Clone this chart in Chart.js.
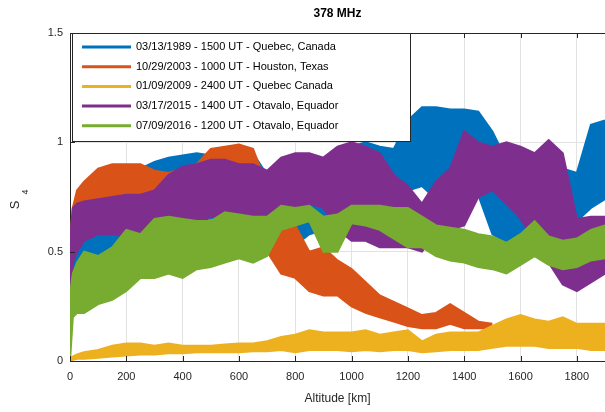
<!DOCTYPE html>
<html>
<head>
<meta charset="utf-8">
<script src="https://cdn.jsdelivr.net/npm/chart.js@4.4.1/dist/chart.umd.min.js"></script>
<style>
html,body{margin:0;padding:0;background:#ffffff;}
#wrap{width:605px;height:412px;position:relative;}
</style>
</head>
<body>
<div id="wrap"><canvas id="c" width="605" height="412"></canvas></div>
<script>
// ---------- data ----------
const chartTitle = '378 MHz';
const xAxisTitle = 'Altitude [km]';
const yAxisMain = 'S';
const yAxisSub = '4';

const altitudeKm = [0, 10, 25, 50, 100, 150, 200, 250, 300, 350, 400, 450, 500, 550, 600, 650, 700, 750, 800, 850, 900, 950, 1000, 1050, 1100, 1150, 1200, 1250, 1300, 1350, 1400, 1450, 1500, 1550, 1600, 1650, 1700, 1750, 1800, 1850, 1900];

const seriesLabels = [
  '03/13/1989 - 1500 UT - Quebec, Canada',
  '10/29/2003 - 1000 UT - Houston, Texas',
  '01/09/2009 - 2400 UT - Quebec Canada',
  '03/17/2015 - 1400 UT - Otavalo, Equador',
  '07/09/2016 - 1200 UT - Otavalo, Equador'
];

// upper / lower envelope of each noisy S4 trace
const quebec1989Hi = [0.45, 0.65, 0.75, 0.8, 0.82, 0.84, 0.85, 0.88, 0.91, 0.93, 0.94, 0.95, 0.94, 0.95, 0.96, 0.95, 0.85, 0.8, 0.78, 0.88, 0.92, 0.92, 0.98, 1.0, 0.98, 0.97, 1.1, 1.16, 1.16, 1.15, 1.15, 1.14, 1.05, 0.92, 0.72, 0.8, 0.85, 0.88, 0.86, 1.08, 1.1];
const quebec1989Lo = [0.25, 0.35, 0.4, 0.45, 0.48, 0.5, 0.52, 0.55, 0.58, 0.6, 0.62, 0.65, 0.65, 0.66, 0.68, 0.68, 0.55, 0.54, 0.53, 0.58, 0.6, 0.68, 0.72, 0.75, 0.72, 0.72, 0.78, 0.8, 0.74, 0.74, 0.74, 0.76, 0.58, 0.54, 0.58, 0.6, 0.62, 0.64, 0.64, 0.7, 0.74];

const houston2003Hi = [0.55, 0.7, 0.78, 0.82, 0.88, 0.9, 0.9, 0.9, 0.87, 0.86, 0.88, 0.9, 0.97, 0.98, 0.99, 0.97, 0.8, 0.6, 0.62, 0.5, 0.52, 0.46, 0.42, 0.36, 0.3, 0.27, 0.24, 0.21, 0.22, 0.26, 0.22, 0.18, 0.17];
const houston2003Lo = [0.35, 0.5, 0.55, 0.6, 0.64, 0.66, 0.6, 0.68, 0.7, 0.7, 0.72, 0.72, 0.68, 0.66, 0.62, 0.6, 0.5, 0.4, 0.38, 0.32, 0.3, 0.3, 0.25, 0.22, 0.2, 0.18, 0.16, 0.15, 0.15, 0.17, 0.15, 0.15, 0.15];

const quebec2009Hi = [0.01, 0.02, 0.03, 0.04, 0.05, 0.07, 0.08, 0.08, 0.07, 0.08, 0.07, 0.07, 0.07, 0.075, 0.08, 0.08, 0.09, 0.11, 0.12, 0.14, 0.13, 0.13, 0.13, 0.14, 0.12, 0.13, 0.14, 0.09, 0.12, 0.13, 0.13, 0.13, 0.16, 0.19, 0.21, 0.19, 0.18, 0.2, 0.17, 0.17, 0.17];
const quebec2009Lo = [0, 0.005, 0.01, 0.01, 0.015, 0.02, 0.025, 0.03, 0.03, 0.035, 0.035, 0.04, 0.04, 0.04, 0.04, 0.045, 0.045, 0.05, 0.04, 0.05, 0.05, 0.05, 0.045, 0.05, 0.045, 0.05, 0.05, 0.04, 0.045, 0.05, 0.05, 0.05, 0.06, 0.07, 0.07, 0.07, 0.06, 0.06, 0.06, 0.05, 0.05];

const otavalo2015Hi = [0.55, 0.7, 0.72, 0.73, 0.74, 0.75, 0.76, 0.76, 0.78, 0.85, 0.89, 0.9, 0.92, 0.92, 0.9, 0.9, 0.87, 0.93, 0.95, 0.95, 0.93, 0.98, 1.0, 0.98, 0.95, 0.85, 0.8, 0.72, 0.82, 0.88, 1.05, 1.0, 0.98, 1.0, 0.98, 0.95, 1.01, 0.95, 0.65, 0.66, 0.66];
const otavalo2015Lo = [0.3, 0.45, 0.5, 0.55, 0.58, 0.58, 0.57, 0.58, 0.6, 0.58, 0.6, 0.62, 0.66, 0.66, 0.65, 0.55, 0.57, 0.68, 0.7, 0.72, 0.7, 0.6, 0.55, 0.55, 0.52, 0.52, 0.52, 0.5, 0.58, 0.6, 0.62, 0.75, 0.78, 0.72, 0.65, 0.55, 0.45, 0.35, 0.32, 0.36, 0.4];

const otavalo2016Hi = [0.3, 0.4, 0.45, 0.5, 0.48, 0.52, 0.6, 0.58, 0.65, 0.66, 0.65, 0.64, 0.64, 0.68, 0.67, 0.66, 0.66, 0.71, 0.7, 0.71, 0.66, 0.67, 0.71, 0.71, 0.71, 0.7, 0.7, 0.66, 0.62, 0.61, 0.6, 0.58, 0.57, 0.54, 0.58, 0.64, 0.57, 0.55, 0.56, 0.6, 0.62];
const otavalo2016Lo = [0, 0.2, 0.22, 0.22, 0.26, 0.28, 0.32, 0.38, 0.38, 0.4, 0.38, 0.42, 0.43, 0.45, 0.47, 0.45, 0.48, 0.6, 0.62, 0.64, 0.5, 0.5, 0.63, 0.62, 0.6, 0.56, 0.52, 0.52, 0.48, 0.46, 0.45, 0.43, 0.42, 0.4, 0.44, 0.48, 0.44, 0.42, 0.43, 0.46, 0.47];

const xTickValues = [0, 200, 400, 600, 800, 1000, 1200, 1400, 1600, 1800];
const yTickValues = [0, 0.5, 1, 1.5];

// ---------- styling ----------
const seriesColors = ['#0072BD', '#D95319', '#EDB120', '#7E2F8E', '#77AC30'];
const axisColor = '#262626';
const FONT = '"Liberation Sans", Arial, Helvetica, sans-serif';

const highs = [quebec1989Hi, houston2003Hi, quebec2009Hi, otavalo2015Hi, otavalo2016Hi];
const lows  = [quebec1989Lo, houston2003Lo, quebec2009Lo, otavalo2015Lo, otavalo2016Lo];

function toPoints(arr) {
  return arr.map((v, i) => ({ x: altitudeKm[i], y: v }));
}

const datasets = [];
for (let s = 0; s < seriesLabels.length; s++) {
  datasets.push({
    label: seriesLabels[s],
    data: toPoints(highs[s]),
    borderColor: seriesColors[s],
    backgroundColor: seriesColors[s],
    borderWidth: 2,
    pointRadius: 0,
    tension: 0,
    fill: '+1',
    order: seriesLabels.length - 1 - s
  });
  datasets.push({
    label: seriesLabels[s] + ' (lower)',
    data: toPoints(lows[s]),
    borderColor: seriesColors[s],
    backgroundColor: seriesColors[s],
    borderWidth: 2,
    pointRadius: 0,
    tension: 0,
    fill: false,
    order: seriesLabels.length - 1 - s
  });
}

const decorPlugin = {
  id: 'decor',
  afterDatasetsDraw(chart) {
    const ctx = chart.ctx;
    const a = chart.chartArea;
    const xs = chart.scales.x, ys = chart.scales.y;
    ctx.save();
    // top box line
    ctx.strokeStyle = axisColor;
    ctx.lineWidth = 1;
    ctx.beginPath();
    ctx.moveTo(a.left, a.top + 0.5);
    ctx.lineTo(a.right, a.top + 0.5);
    ctx.stroke();
    // inward ticks
    xTickValues.forEach(v => {
      const px = Math.round(xs.getPixelForValue(v)) + 0.5;
      ctx.beginPath();
      ctx.moveTo(px, a.bottom); ctx.lineTo(px, a.bottom - 5);
      ctx.moveTo(px, a.top); ctx.lineTo(px, a.top + 5);
      ctx.stroke();
    });
    yTickValues.forEach(v => {
      const py = Math.round(ys.getPixelForValue(v)) + 0.5;
      ctx.beginPath();
      ctx.moveTo(a.left, py); ctx.lineTo(a.left + 5, py);
      ctx.stroke();
    });
    // legend box
    const bx = 72.5, by = 33.5, bw = 338, bh = 108;
    ctx.fillStyle = '#ffffff';
    ctx.fillRect(bx, by, bw, bh);
    ctx.strokeStyle = axisColor;
    ctx.lineWidth = 1;
    ctx.strokeRect(bx, by, bw, bh);
    ctx.font = '11px ' + FONT;
    ctx.textBaseline = 'middle';
    ctx.textAlign = 'left';
    for (let s = 0; s < seriesLabels.length; s++) {
      const ry = 47 + s * 19.7;
      ctx.strokeStyle = seriesColors[s];
      ctx.lineWidth = 3;
      ctx.beginPath();
      ctx.moveTo(82, ry); ctx.lineTo(131, ry);
      ctx.stroke();
      ctx.fillStyle = '#000000';
      ctx.fillText(seriesLabels[s], 136, ry);
    }
    // title
    ctx.fillStyle = '#000000';
    ctx.font = 'bold 12px ' + FONT;
    ctx.textAlign = 'center';
    ctx.textBaseline = 'middle';
    ctx.fillText(chartTitle, (a.left + a.right) / 2, 14);
    // y axis label S4
    ctx.save();
    ctx.translate(18.5, 205);
    ctx.rotate(-Math.PI / 2);
    ctx.fillStyle = axisColor;
    ctx.font = '13px ' + FONT;
    ctx.textAlign = 'center';
    ctx.textBaseline = 'alphabetic';
    ctx.fillText(yAxisMain, 0, 0);
    ctx.font = '9px ' + FONT;
    ctx.fillText(yAxisSub, 13, 9);
    ctx.restore();
    ctx.restore();
  }
};

new Chart(document.getElementById('c'), {
  type: 'line',
  data: { datasets },
  options: {
    responsive: false,
    animation: false,
    devicePixelRatio: 1,
    layout: { padding: { top: 33, left: 0, right: 0, bottom: 0 } },
    plugins: {
      legend: { display: false },
      title: { display: false },
      tooltip: { enabled: false },
      filler: { propagate: false }
    },
    scales: {
      x: {
        type: 'linear',
        min: 0,
        max: 1900,
        afterBuildTicks: s => { s.ticks = xTickValues.map(v => ({ value: v })); },
        afterFit: s => { s.height = 51; },
        ticks: { color: axisColor, font: { size: 11, family: FONT }, padding: 9, maxRotation: 0, autoSkip: false, callback: v => String(v) },
        grid: { color: '#e2e2e2', drawTicks: false, lineWidth: 1 },
        border: { color: axisColor, width: 1 },
        title: { display: true, text: xAxisTitle, color: axisColor, font: { size: 12, family: FONT }, padding: { top: 0, bottom: 6 } }
      },
      y: {
        type: 'linear',
        min: 0,
        max: 1.5,
        afterBuildTicks: s => { s.ticks = yTickValues.map(v => ({ value: v })); },
        afterFit: s => { s.width = 70; },
        ticks: { color: axisColor, font: { size: 11, family: FONT }, padding: 7, callback: v => String(v) },
        grid: { color: '#e2e2e2', drawTicks: false, lineWidth: 1 },
        border: { color: axisColor, width: 1 }
      }
    }
  },
  plugins: [decorPlugin]
});
</script>
</body>
</html>
